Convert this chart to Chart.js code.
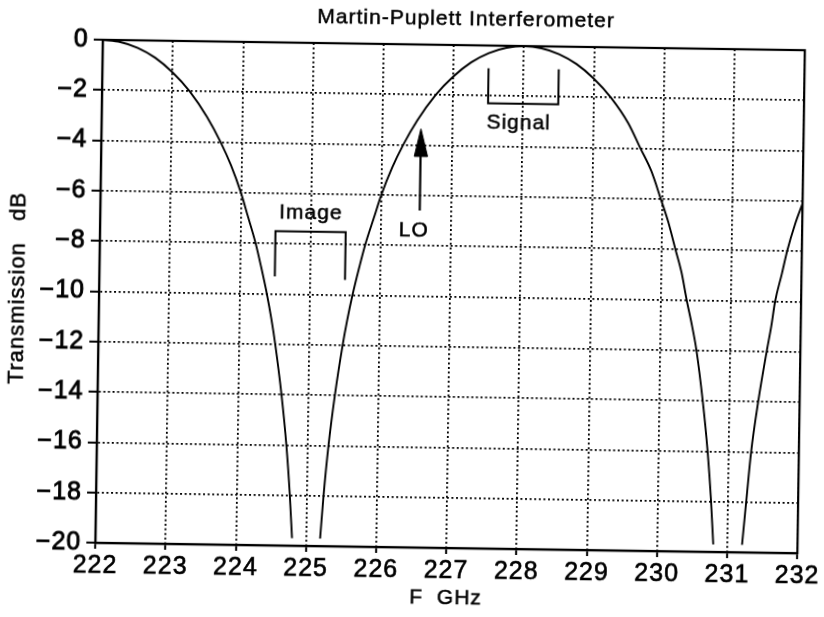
<!DOCTYPE html>
<html lang="en">
<head>
<meta charset="UTF-8">
<title>Martin-Puplett Interferometer</title>
<script src="https://cdn.jsdelivr.net/npm/chart.js"></script>
<style>
    html, body { margin: 0; padding: 0; background: #fff; }
    /* the scanned original sits slightly skewed on the page */
    #wrap {
        width: 824px;
        height: 617px;
        transform: rotate(0.85deg);
        transform-origin: 451px 297px;
    }
</style>
</head>
<body>
<div id="wrap"><canvas id="mpChart" width="824" height="617"></canvas></div>
<script>
    // main lobe around 222 GHz, down to the first null
    const freqA = [222.0, 222.25, 222.5, 222.75, 223.0, 223.25, 223.5, 223.7, 223.85, 224.0, 224.1, 224.22, 224.3, 224.39, 224.46, 224.52, 224.62, 224.7, 224.76, 224.8];
    const dbA   = [0, -0.08, -0.3, -0.68, -1.25, -2, -3, -4, -4.9, -6, -6.9, -8, -8.9, -10, -11, -12, -14, -16, -18, -19.7];
    // second lobe, peak near 228 GHz
    const freqB = [225.2, 225.24, 225.3, 225.38, 225.48, 225.54, 225.61, 225.7, 225.78, 225.9, 226.0, 226.15, 226.3, 226.5, 226.75, 227.0, 227.25, 227.5, 227.75, 228.0,
                   228.25, 228.5, 228.75, 229.0, 229.25, 229.5, 229.68, 229.84, 229.98, 230.09, 230.2, 230.29, 230.37, 230.45, 230.52, 230.62, 230.7, 230.76, 230.8];
    const dbB   = [-19.7, -18, -16, -14, -12, -11, -10, -8.9, -8, -6.9, -6, -4.9, -4, -3, -2, -1.25, -0.68, -0.3, -0.08, 0,
                   -0.08, -0.3, -0.68, -1.25, -2, -3, -4, -4.9, -6, -6.9, -8, -8.9, -10, -11, -12, -14, -16, -18, -19.7];
    // rising edge after the second null
    const freqC = [231.21, 231.26, 231.32, 231.41, 231.52, 231.58, 231.63, 231.72, 231.79, 231.9, 232.0];
    const dbC   = [-19.7, -18, -16, -14, -12, -11, -10, -8.9, -8, -6.9, -6.1];

    const xTickValues = [222, 223, 224, 225, 226, 227, 228, 229, 230, 231, 232];
    const yTickValues = [0, -2, -4, -6, -8, -10, -12, -14, -16, -18, -20];

    // band brackets and LO marker
    const imageBracketF = [224.5, 224.5, 225.5, 225.5];
    const imageBracketDb = [-9.3, -7.5, -7.5, -9.4];
    const signalBracketF = [227.5, 227.5, 228.5, 228.5];
    const signalBracketDb = [-0.9, -2.3, -2.3, -0.9];
    const loShaftF = [226.55, 226.55];
    const loShaftDb = [-6.6, -4.4];
    const loHeadF = [226.46, 226.55, 226.65, 226.46];
    const loHeadDb = [-4.45, -3.35, -4.45, -4.45];

    const noteText = ['Image', 'Signal', 'LO'];
    const noteF = [225.0, 227.94, 226.47];
    const noteDb = [-6.75, -3.05, -7.4];

    const TITLE = 'Martin-Puplett Interferometer';
    const X_TITLE = 'F  GHz';
    const Y_TITLE = 'Transmission   dB';

    const FONT = '"Liberation Sans", Arial, sans-serif';

    function pts(xs, ys) {
        return xs.map((x, i) => ({x: x, y: ys[i]}));
    }

    function curve(xs, ys) {
        return {
            data: pts(xs, ys),
            borderColor: '#000',
            borderWidth: 1.9,
            pointRadius: 0,
            cubicInterpolationMode: 'monotone',
            fill: false
        };
    }

    function marker(xs, ys, width) {
        return {
            data: pts(xs, ys),
            borderColor: '#000',
            borderWidth: width,
            pointRadius: 0,
            tension: 0,
            fill: false
        };
    }

    const headSet = marker(loHeadF, loHeadDb, 1);
    headSet.fill = 'shape';
    headSet.backgroundColor = '#000';

    // plotter-style lettering is a little spaced out
    const spacingPlugin = {
        id: 'spacing',
        beforeDraw(chart) {
            chart.ctx.letterSpacing = '1px';
        }
    };

    // closed frame round the plot area, over the dotted grid
    const framePlugin = {
        id: 'frame',
        beforeDatasetsDraw(chart) {
            const a = chart.chartArea;
            const ctx = chart.ctx;
            ctx.save();
            ctx.strokeStyle = '#000';
            ctx.lineWidth = 2.2;
            ctx.setLineDash([]);
            ctx.strokeRect(a.left, a.top, a.right - a.left, a.bottom - a.top);
            ctx.restore();
        }
    };

    function inkText(ctx, t, x, y) {
        ctx.fillText(t, x, y);
        ctx.strokeText(t, x, y);
    }

    // labels inside the plot, the title and both axis titles
    const textPlugin = {
        id: 'notes',
        afterDatasetsDraw(chart) {
            const ctx = chart.ctx;
            const xs = chart.scales.x, ys = chart.scales.y;
            const a = chart.chartArea;
            ctx.save();
            ctx.fillStyle = '#000';
            ctx.strokeStyle = '#000';
            ctx.lineWidth = 0.5;
            ctx.textAlign = 'center';
            ctx.textBaseline = 'middle';
            ctx.font = '21px ' + FONT;
            noteText.forEach((t, i) => {
                inkText(ctx, t, xs.getPixelForValue(noteF[i]), ys.getPixelForValue(noteDb[i]));
            });
            // title sits a bit right of centre like the original
            inkText(ctx, TITLE, (a.left + a.right) / 2 + 12, a.top - 26);
            inkText(ctx, X_TITLE, (a.left + a.right) / 2, chart.height - 19);
            ctx.font = '22px ' + FONT;
            ctx.translate(18, (a.top + a.bottom) / 2 - 2);
            ctx.rotate(-Math.PI / 2);
            inkText(ctx, Y_TITLE, 0, 0);
            ctx.restore();
        }
    };

    const tickFont = {family: FONT, size: 25};
    const gridOpts = {color: '#000', lineWidth: 1.8, tickColor: '#000', tickWidth: 2, tickBorderDash: []};

    new Chart(document.getElementById('mpChart'), {
        type: 'line',
        data: {
            datasets: [
                curve(freqA, dbA),
                curve(freqB, dbB),
                curve(freqC, dbC),
                marker(imageBracketF, imageBracketDb, 2),
                marker(signalBracketF, signalBracketDb, 2),
                marker(loShaftF, loShaftDb, 2.2),
                headSet
            ]
        },
        options: {
            responsive: false,
            animation: false,
            layout: {padding: {top: 45, right: 20, bottom: 0, left: 0}},
            plugins: {
                legend: {display: false},
                tooltip: {enabled: false},
                title: {display: false}
            },
            scales: {
                x: {
                    type: 'linear',
                    min: 222,
                    max: 232,
                    afterBuildTicks: s => { s.ticks = xTickValues.map(v => ({value: v})); },
                    afterFit: s => { s.height = 69; },
                    ticks: {color: '#000', font: tickFont, padding: 2, maxRotation: 0, autoSkip: false,
                            textStrokeColor: '#000', textStrokeWidth: 0.6},
                    grid: Object.assign({tickLength: 6}, gridOpts),
                    border: {display: true, color: '#000', width: 2.2, dash: [2, 2.6]},
                    title: {display: false}
                },
                y: {
                    min: -20,
                    max: 0,
                    afterBuildTicks: s => { s.ticks = yTickValues.map(v => ({value: v})); },
                    afterFit: s => { s.width = 99; },
                    ticks: {
                        color: '#000',
                        font: tickFont,
                        padding: 5,
                        textStrokeColor: '#000',
                        textStrokeWidth: 0.9,
                        callback: v => v < 0 ? '\u2212' + Math.abs(v) : String(v)
                    },
                    grid: Object.assign({tickLength: 9}, gridOpts),
                    border: {display: true, color: '#000', width: 2.2, dash: [2, 2.6]},
                    title: {display: false}
                }
            }
        },
        plugins: [spacingPlugin, framePlugin, textPlugin]
    });
</script>
</body>
</html>
